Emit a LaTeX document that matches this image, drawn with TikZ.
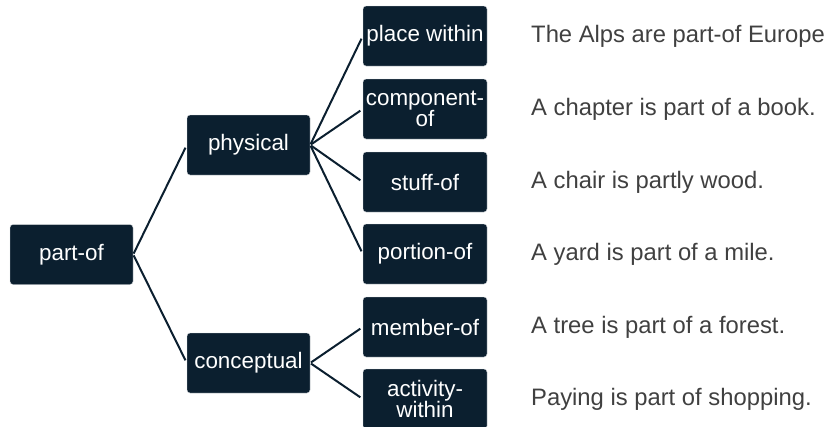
\documentclass[tikz,border=0pt]{standalone}
\usepackage{fontspec}
\setmainfont{Liberation Sans}
\definecolor{navy}{HTML}{0B1F2F}
\definecolor{txtgray}{HTML}{404040}
\begin{document}
\begin{tikzpicture}[x=1pt,y=-1pt,
  box/.style={draw=white!85!navy, line width=0.4pt, fill=navy, rounded corners=3pt, text=white,
    minimum width=123pt, minimum height=60pt, inner sep=1pt, align=center,
    font=\fontsize{22.4}{21}\selectfont},
  wide/.style={minimum width=124pt},
  link/.style={navy, line width=2pt, shorten >=3pt, shorten <=1pt},
  example/.style={anchor=west, text=txtgray, inner sep=0pt, font=\fontsize{23.8}{28}\selectfont}]
\useasboundingbox (0,0) rectangle (829,426);
\clip (0,0) rectangle (829,426);
\node[box] (partof) at (71.5,254.5) {part-of};
\node[box] (physical) at (248.5,145) {physical};
\node[box] (conceptual) at (248.5,363) {conceptual};
\node[box,wide] (place) at (425,36) {place within};
\node[box,wide] (component) at (425,109) {component-\\of};
\node[box,wide] (stuff) at (425,182) {stuff-of};
\node[box,wide] (portion) at (425,254) {portion-of};
\node[box,wide] (member) at (425,327) {member-of};
\node[box,wide] (activity) at (425,399) {activity-\\within};
\draw[link] (partof.east) -- (physical.west);
\draw[link] (partof.east) -- (conceptual.west);
\foreach \c in {place,component,stuff,portion}
  \draw[link] (physical.east) -- (\c.west);
\foreach \c in {member,activity}
  \draw[link] (conceptual.east) -- (\c.west);
\node[example] (e1) at (531,36) {The Alps are part-of Europe};
\node[example] (e2) at (531,109) {A chapter is part of a book.};
\node[example] (e3) at (531,182) {A chair is partly wood.};
\node[example] (e4) at (531,254) {A yard is part of a mile.};
\node[example] (e5) at (531,327) {A tree is part of a forest.};
\node[example] (e6) at (531,399) {Paying is part of shopping.};
\end{tikzpicture}
\end{document}
